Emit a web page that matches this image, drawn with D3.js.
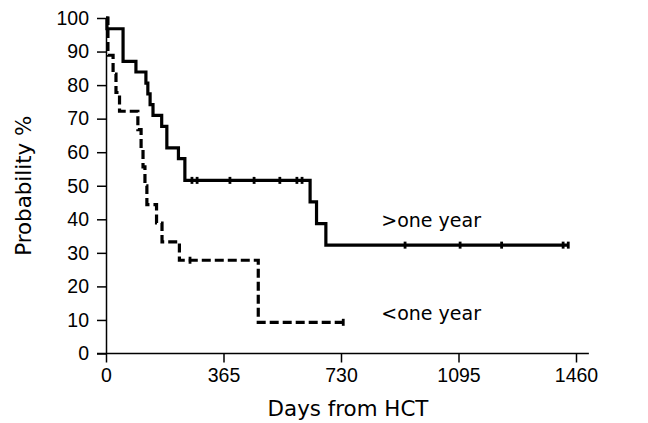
<!DOCTYPE html>
<html>
<head>
<meta charset="utf-8">
<script src="https://cdn.jsdelivr.net/npm/d3@7"></script>
<style>
  html, body { margin: 0; padding: 0; background: #fff; }
  svg { display: block; }
</style>
</head>
<body>
<svg id="chart" width="648" height="423"></svg>
<script>
// ---- data ----
const xTicks = [0, 365, 730, 1095, 1460];
const yTicks = [0, 10, 20, 30, 40, 50, 60, 70, 80, 90, 100];

// ">one year" (solid) Kaplan-Meier steps: days and survival %
const overDays = [0, 3, 53, 93, 124, 130, 137, 146, 173, 189, 225, 245, 634, 654, 683, 1436];
const overSurv = [100, 96.8, 87.1, 83.9, 80.6, 77.4, 74.2, 71.0, 67.7, 61.3, 58.1, 51.6, 45.2, 38.7, 32.3, 32.3];
const overCensorDays = [267, 283, 385, 460, 540, 593, 609, 929, 1100, 1229, 1420, 1436];
const overCensorSurv = [51.6, 51.6, 51.6, 51.6, 51.6, 51.6, 51.6, 32.3, 32.3, 32.3, 32.3, 32.3];

// "<one year" (dashed)
const underDays = [0, 6, 22, 31, 42, 99, 109, 115, 121, 127, 157, 174, 228, 473, 737];
const underSurv = [100, 88.9, 83.3, 77.8, 72.2, 66.7, 61.1, 55.6, 50.0, 44.4, 38.9, 33.3, 27.8, 9.3, 9.3];
const underCensorDays = [261, 737];
const underCensorSurv = [27.8, 9.3];

const labels = [">one year", "<one year"];
const labelAnchor = [{ d: 855, s: 37.7 }, { d: 855, s: 10 }];

// ---- drawing ----
const svg = d3.select("#chart");
const x = d3.scaleLinear().domain([0, 1460]).range([106, 576]);
const y = d3.scaleLinear().domain([0, 100]).range([353.5, 18]);

const tickFont = "'Liberation Sans', Arial, sans-serif";
const titleFont = "'DejaVu Sans', Verdana, sans-serif";

// axes
const xAxis = d3.axisBottom(x).tickValues(xTicks).tickFormat(d3.format("d"))
  .tickSize(9).tickSizeOuter(0).tickPadding(6);
const gx = svg.append("g").attr("transform", `translate(0,${y(0)})`).call(xAxis);
gx.select(".domain").remove();
gx.append("line")
  .attr("x1", x(0) - 9).attr("x2", x(1500))
  .attr("stroke", "#000").attr("stroke-width", 1.5);
gx.selectAll(".tick line").attr("stroke", "#000").attr("stroke-width", 1.5);
gx.selectAll(".tick text").attr("font-family", tickFont).attr("font-size", 19.5).attr("fill", "#000");

const yAxis = d3.axisLeft(y).tickValues(yTicks).tickFormat(d3.format("d"))
  .tickSize(9).tickSizeOuter(0).tickPadding(8);
const gy = svg.append("g").attr("transform", `translate(${x(0)},0)`).call(yAxis);
gy.select(".domain").attr("stroke", "#000").attr("stroke-width", 1.5);
gy.selectAll(".tick line").attr("stroke", "#000").attr("stroke-width", 1.5);
gy.selectAll(".tick text").attr("font-family", tickFont).attr("font-size", 19.5).attr("fill", "#000");

// axis titles
svg.append("text")
  .attr("x", (x(0) + x(1460)) / 2 + 7).attr("y", 416)
  .attr("text-anchor", "middle")
  .attr("font-family", titleFont).attr("font-size", 21.4)
  .text("Days from HCT");

svg.append("text")
  .attr("transform", `translate(31,${y(50)})rotate(-90)`)
  .attr("text-anchor", "middle")
  .attr("font-family", titleFont).attr("font-size", 21.4)
  .text("Probability %");

// curves
const line = d3.line().x(d => x(d[0])).y(d => y(d[1])).curve(d3.curveStepAfter);
const overPts = overDays.map((d, i) => [d, overSurv[i]]);
const underPts = underDays.map((d, i) => [d, underSurv[i]]);

svg.append("path").datum(underPts)
  .attr("d", line).attr("fill", "none")
  .attr("stroke", "#000").attr("stroke-width", 3.2)
  .attr("stroke-dasharray", "9,4");

svg.append("path").datum(overPts)
  .attr("d", line).attr("fill", "none")
  .attr("stroke", "#000").attr("stroke-width", 3.2);

// censor marks
function censors(days, surv) {
  svg.append("g").selectAll("line").data(days.map((d, i) => [d, surv[i]])).join("line")
    .attr("x1", d => x(d[0])).attr("x2", d => x(d[0]))
    .attr("y1", d => y(d[1]) - 3.5).attr("y2", d => y(d[1]) + 3.5)
    .attr("stroke", "#000").attr("stroke-width", 2.8);
}
censors(overCensorDays, overCensorSurv);
censors(underCensorDays, underCensorSurv);

// labels
svg.append("g").selectAll("text").data(labels).join("text")
  .attr("x", (d, i) => x(labelAnchor[i].d))
  .attr("y", (d, i) => y(labelAnchor[i].s))
  .attr("font-family", titleFont).attr("font-size", 19)
  .text(d => d);
</script>
</body>
</html>
